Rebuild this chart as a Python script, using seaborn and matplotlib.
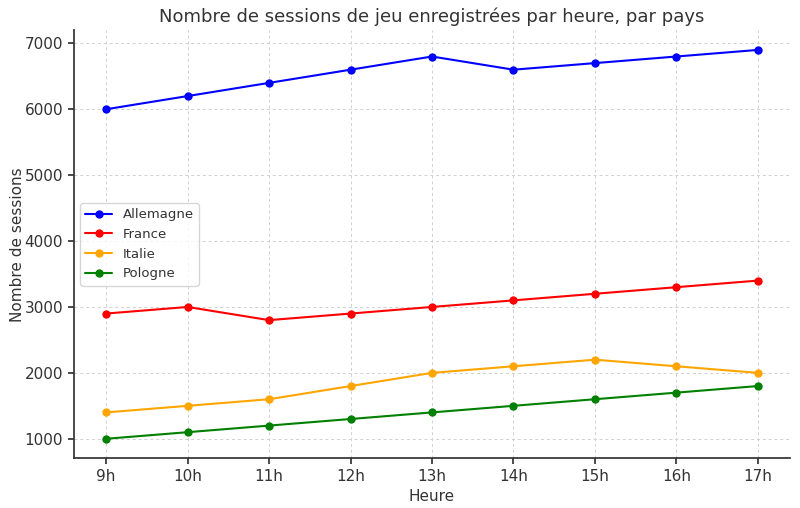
import matplotlib
matplotlib.use("Agg")
import matplotlib.pyplot as plt
import seaborn as sns
import pandas as pd

hours = ["9h", "10h", "11h", "12h", "13h", "14h", "15h", "16h", "17h"]
allemagne = [6000, 6200, 6400, 6600, 6800, 6600, 6700, 6800, 6900]
france = [2900, 3000, 2800, 2900, 3000, 3100, 3200, 3300, 3400]
italie = [1400, 1500, 1600, 1800, 2000, 2100, 2200, 2100, 2000]
pologne = [1000, 1100, 1200, 1300, 1400, 1500, 1600, 1700, 1800]
countries = ["Allemagne", "France", "Italie", "Pologne"]
colors = ["blue", "red", "orange", "green"]

rows = []
for c, vals in zip(countries, [allemagne, france, italie, pologne]):
    for h, v in zip(hours, vals):
        rows.append({"Heure": h, "Sessions": v, "Pays": c})
df = pd.DataFrame(rows)

sns.set_theme(style="white")
plt.rcParams['font.family'] = ['DejaVu Sans']
plt.rcParams['text.color'] = '#333333'
plt.rcParams['axes.labelcolor'] = '#333333'
plt.rcParams['xtick.color'] = '#333333'
plt.rcParams['ytick.color'] = '#333333'

fig, ax = plt.subplots(figsize=(8, 5.08), dpi=100)
sns.lineplot(data=df, x="Heure", y="Sessions", hue="Pays", hue_order=countries,
             palette=colors, marker="o", markersize=6, markeredgewidth=0,
             linewidth=1.5, ax=ax, sort=False)

ax.set_title("Nombre de sessions de jeu enregistrées par heure, par pays", fontsize=13)
ax.set_xlabel("Heure", fontsize=11)
ax.set_ylabel("Nombre de sessions", fontsize=11, labelpad=0)
ax.tick_params(axis='both', labelsize=11, length=4, direction='out', left=True, bottom=True)
ax.grid(True, linestyle=(0, (3, 3)), color='#d0d0d0', linewidth=0.7)
sns.despine(ax=ax)
for s in ["left", "bottom"]:
    ax.spines[s].set_color('#333333')
ax.set_xlim(-0.4, 8.4)
ax.legend(loc='center left', bbox_to_anchor=(0.0, 0.5), fontsize=9.5, frameon=True)

fig.subplots_adjust(left=0.092, right=0.988, top=0.94, bottom=0.098)
fig.savefig("out.png", dpi=100)
